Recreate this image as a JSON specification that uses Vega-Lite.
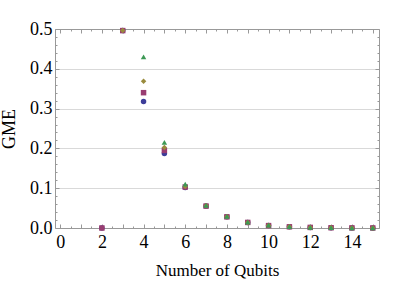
{
  "$schema": "https://vega.github.io/schema/vega-lite/v6.json",
  "width": 324,
  "height": 199,
  "autosize": "none",
  "padding": {"left": 55, "top": 29, "right": 28, "bottom": 53},
  "background": "white",
  "config": {
    "view": {"stroke": null},
    "axis": {"labelFont": "Liberation Serif", "titleFont": "Liberation Serif", "labelColor": "#000", "titleColor": "#000", "titleFontWeight": "normal", "domainColor": "#999", "tickColor": "#999", "gridColor": "#d9d9d9"}
  },
  "datasets": {
    "pts": [
      {"n": 2, "gme": 0.0, "s": "A"},
      {"n": 3, "gme": 0.496, "s": "A"},
      {"n": 4, "gme": 0.318, "s": "A"},
      {"n": 5, "gme": 0.187, "s": "A"},
      {"n": 6, "gme": 0.102, "s": "A"},
      {"n": 7, "gme": 0.055, "s": "A"},
      {"n": 8, "gme": 0.028, "s": "A"},
      {"n": 9, "gme": 0.014, "s": "A"},
      {"n": 10, "gme": 0.006, "s": "A"},
      {"n": 11, "gme": 0.003, "s": "A"},
      {"n": 12, "gme": 0.0015, "s": "A"},
      {"n": 13, "gme": 0.0007, "s": "A"},
      {"n": 14, "gme": 0.0003, "s": "A"},
      {"n": 15, "gme": 0.0001, "s": "A"},
      {"n": 2, "gme": 0.0, "s": "B"},
      {"n": 3, "gme": 0.496, "s": "B"},
      {"n": 4, "gme": 0.34, "s": "B"},
      {"n": 5, "gme": 0.195, "s": "B"},
      {"n": 6, "gme": 0.103, "s": "B"},
      {"n": 7, "gme": 0.055, "s": "B"},
      {"n": 8, "gme": 0.028, "s": "B"},
      {"n": 9, "gme": 0.014, "s": "B"},
      {"n": 10, "gme": 0.006, "s": "B"},
      {"n": 11, "gme": 0.003, "s": "B"},
      {"n": 12, "gme": 0.0015, "s": "B"},
      {"n": 13, "gme": 0.0007, "s": "B"},
      {"n": 14, "gme": 0.0003, "s": "B"},
      {"n": 15, "gme": 0.0001, "s": "B"},
      {"n": 3, "gme": 0.496, "s": "C"},
      {"n": 4, "gme": 0.369, "s": "C"},
      {"n": 5, "gme": 0.202, "s": "C"},
      {"n": 6, "gme": 0.104, "s": "C"},
      {"n": 7, "gme": 0.056, "s": "C"},
      {"n": 8, "gme": 0.028, "s": "C"},
      {"n": 9, "gme": 0.014, "s": "C"},
      {"n": 10, "gme": 0.006, "s": "C"},
      {"n": 11, "gme": 0.003, "s": "C"},
      {"n": 12, "gme": 0.0015, "s": "C"},
      {"n": 13, "gme": 0.0007, "s": "C"},
      {"n": 14, "gme": 0.0003, "s": "C"},
      {"n": 15, "gme": 0.0001, "s": "C"},
      {"n": 4, "gme": 0.43, "s": "D"},
      {"n": 5, "gme": 0.215, "s": "D"},
      {"n": 6, "gme": 0.11, "s": "D"},
      {"n": 7, "gme": 0.057, "s": "D"},
      {"n": 8, "gme": 0.029, "s": "D"},
      {"n": 9, "gme": 0.015, "s": "D"},
      {"n": 10, "gme": 0.007, "s": "D"},
      {"n": 11, "gme": 0.0035, "s": "D"},
      {"n": 12, "gme": 0.0018, "s": "D"},
      {"n": 13, "gme": 0.0009, "s": "D"},
      {"n": 14, "gme": 0.0004, "s": "D"},
      {"n": 15, "gme": 0.0002, "s": "D"}
    ]
  },
  "data": {"name": "pts"},
  "resolve": {"axis": {"x": "independent", "y": "independent"}},
  "layer": [
    {
      "mark": {"type": "point", "filled": true, "opacity": 1, "size": 30, "clip": false},
      "encoding": {
        "x": {"field": "n", "type": "quantitative", "scale": {"domain": [-0.25, 15.3], "nice": false, "zero": false},
          "axis": {"orient": "bottom", "title": "Number of Qubits", "titleFontSize": 17, "titlePadding": 9, "labelFontSize": 18, "labelPadding": 9,
            "values": [0,0.5,1,1.5,2,2.5,3,3.5,4,4.5,5,5.5,6,6.5,7,7.5,8,8.5,9,9.5,10,10.5,11,11.5,12,12.5,13,13.5,14,14.5,15],
            "labelExpr": "datum.value % 2 === 0 && datum.value < 15 ? format(datum.value, 'd') : ''",
            "tickSize": {"condition": {"test": "datum.value % 1 === 0", "value": -4}, "value": -2},
            "grid": false, "labelFlush": false, "labelOverlap": false}},
        "y": {"field": "gme", "type": "quantitative", "scale": {"domain": [0, 0.5], "nice": false},
          "axis": {"orient": "left", "title": "GME", "titleFontSize": 18, "titlePadding": 11, "labelFontSize": 18, "labelPadding": 7,
            "values": [0,0.02,0.04,0.06,0.08,0.1,0.12,0.14,0.16,0.18,0.2,0.22,0.24,0.26,0.28,0.3,0.32,0.34,0.36,0.38,0.4,0.42,0.44,0.46,0.48,0.5],
            "labelExpr": "abs(datum.value*10 - round(datum.value*10)) < 0.001 ? format(datum.value, '.1f') : ''",
            "tickSize": {"condition": {"test": "abs(datum.value*10 - round(datum.value*10)) < 0.001", "value": -4}, "value": -2},
            "grid": true,
            "gridOpacity": {"condition": {"test": "abs(datum.value*10 - round(datum.value*10)) < 0.001 && datum.value > 0.05 && datum.value < 0.45", "value": 1}, "value": 0},
            "labelFlush": false, "labelOverlap": false}},
        "color": {"field": "s", "type": "nominal", "legend": null, "scale": {"domain": ["A","B","C","D"], "range": ["#3d3d99", "#993d71", "#998b3d", "#3d9955"]}},
        "shape": {"field": "s", "type": "nominal", "legend": null, "scale": {"domain": ["A","B","C","D"], "range": ["circle", "square", "diamond", "triangle-up"]}}
      }
    },
    {
      "mark": {"type": "point", "opacity": 0},
      "encoding": {
        "x": {"field": "n", "type": "quantitative",
          "axis": {"orient": "top", "title": null, "labels": false,
            "values": [0,0.5,1,1.5,2,2.5,3,3.5,4,4.5,5,5.5,6,6.5,7,7.5,8,8.5,9,9.5,10,10.5,11,11.5,12,12.5,13,13.5,14,14.5,15],
            "tickSize": {"condition": {"test": "datum.value % 1 === 0", "value": -4}, "value": -2},
            "grid": false}},
        "y": {"field": "gme", "type": "quantitative",
          "axis": {"orient": "right", "title": null, "labels": false,
            "values": [0,0.02,0.04,0.06,0.08,0.1,0.12,0.14,0.16,0.18,0.2,0.22,0.24,0.26,0.28,0.3,0.32,0.34,0.36,0.38,0.4,0.42,0.44,0.46,0.48,0.5],
            "tickSize": {"condition": {"test": "abs(datum.value*10 - round(datum.value*10)) < 0.001", "value": -4}, "value": -2},
            "grid": false}}
      }
    }
  ]
}
